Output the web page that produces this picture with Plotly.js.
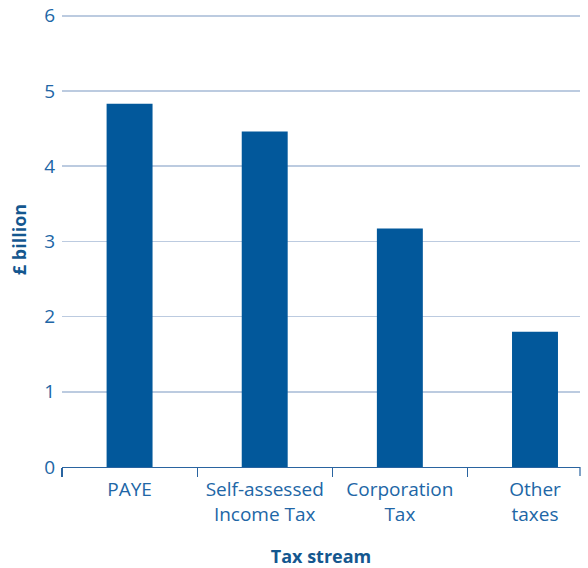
<!DOCTYPE html>
<html>
<head>
<meta charset="utf-8">
<script src="https://cdn.plot.ly/plotly-3.0.1.min.js"></script>
<style>html,body{margin:0;padding:0;background:#fff;}#chart{width:588px;height:568px;}</style>
</head>
<body>
<div id="chart"></div>
<script>
const categories = ["PAYE", "Self-assessed<br>Income Tax", "Corporation<br>Tax", "Other<br>taxes"];
const values = [4.83, 4.46, 3.17, 1.80];
const yTicks = [0, 1, 2, 3, 4, 5, 6];

const barColor = "#02589b";
const textColor = "#2166a6";
const titleColor = "#14578f";
const gridColor = "#bccbe0";
const font = "Open Sans, Lato, sans-serif";

const trace = {
  type: "bar",
  x: categories,
  y: values,
  width: 0.34,
  marker: {color: barColor},
  hoverinfo: "x+y"
};

const layout = {
  width: 588,
  height: 568,
  margin: {l: 62, r: 8, t: 12, b: 101},
  paper_bgcolor: "#ffffff",
  plot_bgcolor: "#ffffff",
  showlegend: false,
  font: {family: font, color: textColor, size: 19},
  xaxis: {
    type: "category",
    range: [-0.5, 3.333],
    showgrid: false,
    showline: true,
    linecolor: "#2a64a0",
    linewidth: 1.2,
    ticks: "outside",
    tickson: "boundaries",
    ticklen: 9,
    tickwidth: 1.2,
    tickcolor: "#2a64a0",
    ticklabelstandoff: 5,
    tickfont: {family: font, size: 19, color: textColor},
    zeroline: false,
    title: {text: "<b>Tax stream</b>", font: {family: font, size: 18, color: titleColor}, standoff: 24}
  },
  yaxis: {
    range: [0, 6.05],
    tickvals: yTicks,
    ticktext: yTicks.map(String),
    showgrid: true,
    gridcolor: gridColor,
    gridwidth: 1.5,
    zeroline: false,
    showline: false,
    ticks: "",
    ticklabelstandoff: 6,
    tickfont: {family: font, size: 19, color: textColor},
    title: {text: "<b>£ billion</b>", font: {family: font, size: 18, color: titleColor}, standoff: 12}
  },
  shapes: [
    {type: "line", xref: "paper", yref: "paper", x0: 1, x1: 1, y0: 0, y1: -0.02,
     line: {color: "#2a64a0", width: 1.2}}
  ]
};

Plotly.newPlot("chart", [trace], layout, {displayModeBar: false, staticPlot: true});
</script>
</body>
</html>
